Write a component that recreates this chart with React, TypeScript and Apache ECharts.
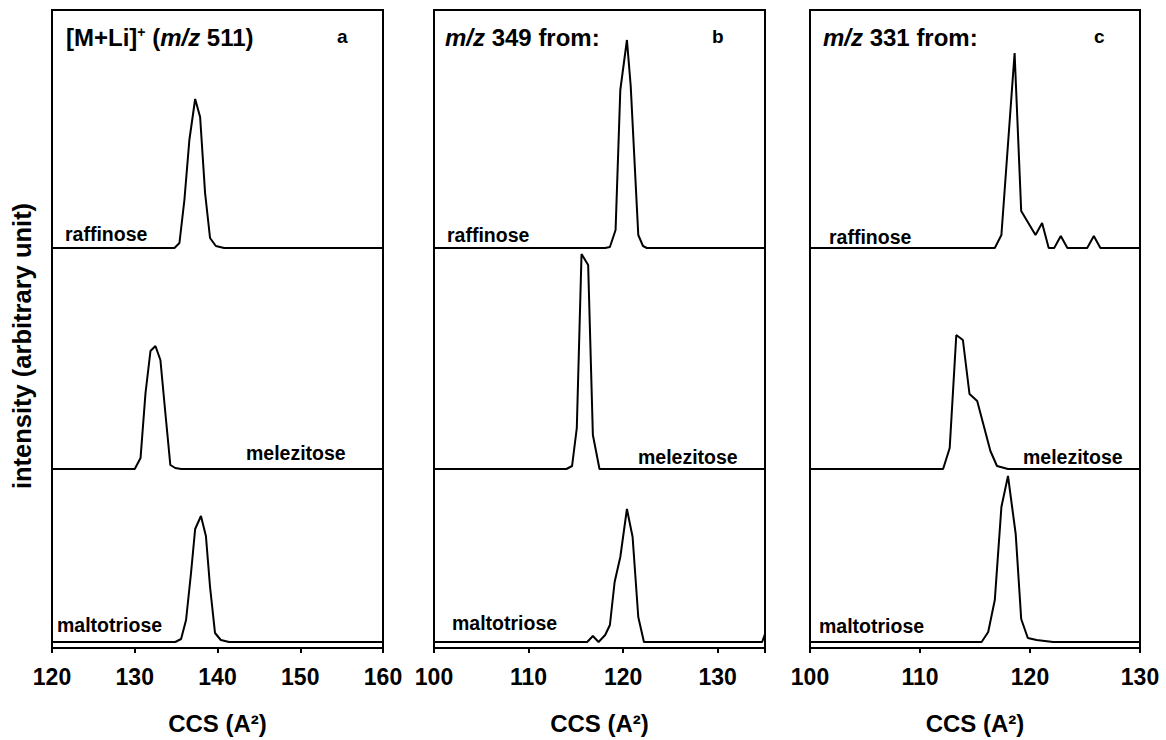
import React, { useEffect, useRef } from "react";
import * as echarts from "echarts";

// Sample names (top to bottom in each panel)
const sampleNames = ["raffinose", "melezitose", "maltotriose"];
// Vertical offsets (arbitrary intensity units) used to stack traces
const stackOffsets = [400, 179, 6];
const yMax = 638;

// Panel a: [M+Li]+ (m/z 511) – CCS vs intensity
const aRaffinose = [[120, 0], [134.8, 0], [135.4, 5], [136.0, 48], [136.6, 108], [137.3, 149], [137.9, 131], [138.5, 55], [139.1, 10], [139.8, 2], [140.8, 0], [160, 0]];
const aMelezitose = [[120, 0], [130.0, 0], [130.7, 11], [131.3, 76], [131.9, 118], [132.5, 123], [133.1, 109], [133.7, 56], [134.3, 4], [134.9, 1], [135.6, 0], [160, 0]];
const aMaltotriose = [[120, 0], [134.9, 0], [135.6, 3], [136.2, 22], [136.8, 69], [137.3, 113], [138.0, 126], [138.6, 106], [139.1, 55], [139.7, 9], [140.4, 2], [141.4, 0], [160, 0]];

// Panel b: m/z 349 fragment
const bRaffinose = [[100, 0], [118.1, 0], [118.6, 1], [119.2, 18], [119.7, 158], [120.4, 208], [120.8, 162], [121.6, 13], [122.1, 2], [122.5, 0], [135, 0]];
const bMelezitose = [[100, 0], [114.0, 0], [114.6, 3], [115.1, 41], [115.6, 215], [116.3, 204], [116.8, 34], [117.5, 0], [135, 0]];
const bMaltotriose = [[100, 0], [116.2, 0], [116.8, 6], [117.4, 0], [118.1, 7], [118.6, 17], [119.1, 60], [119.7, 85], [120.4, 133], [121.0, 105], [121.6, 25], [122.2, 0], [134.7, 0], [135, 8]];

// Panel c: m/z 331 fragment
const cRaffinose = [[100, 0], [116.8, 0], [117.4, 13], [118.6, 195], [119.2, 37], [120.5, 13], [121.1, 25], [121.7, 0], [122.2, 0], [122.8, 12], [123.4, 0], [125.2, 0], [125.8, 12], [126.4, 0], [130, 0]];
const cMelezitose = [[100, 0], [112.1, 0], [112.7, 21], [113.3, 134], [113.9, 129], [114.5, 75], [115.2, 68], [115.8, 43], [116.4, 18], [117.0, 3], [118.0, 0], [130, 0]];
const cMaltotriose = [[100, 0], [115.6, 0], [116.2, 10], [116.8, 42], [117.4, 135], [118.0, 166], [118.7, 108], [119.2, 23], [119.8, 4], [120.6, 2], [122.1, 0], [130, 0]];

const xRanges = [[120, 160], [100, 135], [100, 130]];
const panelLetters = ["a", "b", "c"];

const FONT = '"Liberation Sans", Arial, Helvetica, sans-serif';

export default function App() {
  const ref = useRef<HTMLDivElement>(null);
  useEffect(() => {
    const chart = echarts.init(ref.current!, null, { renderer: "svg" });

    const panels = [
      { left: 52, width: 331, traces: [aRaffinose, aMelezitose, aMaltotriose] },
      { left: 434, width: 331, traces: [bRaffinose, bMelezitose, bMaltotriose] },
      { left: 810, width: 330, traces: [cRaffinose, cMelezitose, cMaltotriose] },
    ];

    const grid = panels.map((p) => ({
      left: p.left,
      width: p.width,
      top: 10,
      height: 638,
      show: true,
      borderColor: "#000",
      borderWidth: 2,
      backgroundColor: "transparent",
    }));

    const xAxis = panels.map((p, i) => ({
      type: "value",
      gridIndex: i,
      min: xRanges[i][0],
      max: xRanges[i][1],
      interval: 10,
      splitLine: { show: false },
      axisLine: { show: true, lineStyle: { color: "#000", width: 2 } },
      axisTick: { show: true, inside: false, length: 5, lineStyle: { color: "#000", width: 2 } },
      axisLabel: {
        show: true,
        margin: 17,
        color: "#000",
        fontFamily: FONT,
        fontWeight: "bold",
        fontSize: 23,
        showMinLabel: true,
        showMaxLabel: true,
        formatter: (v: number) => (v % 10 === 0 ? String(v) : ""),
      },
      name: "CCS (A²)",
      nameLocation: "middle",
      nameGap: 63,
      nameTextStyle: { color: "#000", fontFamily: FONT, fontWeight: "bold", fontSize: 24 },
    }));

    const yAxis = panels.map((p, i) => ({
      type: "value",
      gridIndex: i,
      min: 0,
      max: yMax,
      show: false,
      splitLine: { show: false },
    }));

    const series: any[] = [];
    panels.forEach((p, i) => {
      p.traces.forEach((tr, k) => {
        series.push({
          type: "line",
          name: `${panelLetters[i]}-${sampleNames[k]}`,
          xAxisIndex: i,
          yAxisIndex: i,
          data: tr.map(([x, y]) => [x, y + stackOffsets[k]]),
          showSymbol: false,
          symbol: "none",
          lineStyle: { color: "#000", width: 2 },
          silent: true,
        });
      });
    });

    const labelPos = [
      [[65, 234], [246, 453], [57, 625]],
      [[447, 235], [638, 457], [452, 623]],
      [[829, 237], [1023, 457], [819, 626]],
    ];

    const graphics: any[] = [];
    labelPos.forEach((lp, i) => {
      lp.forEach(([x, y], k) => {
        graphics.push({
          type: "text",
          x,
          y,
          style: {
            text: sampleNames[k],
            fill: "#000",
            font: `bold 19.5px ${FONT}`,
            align: "left",
            verticalAlign: "middle",
          },
        });
      });
    });

    const richBase = {
      b: { fontFamily: FONT, fontWeight: "bold", fontSize: 24, fill: "#000", color: "#000" },
      i: { fontFamily: FONT, fontWeight: "bold", fontStyle: "italic", fontSize: 24, fill: "#000", color: "#000" },
      sup: { fontFamily: FONT, fontWeight: "bold", fontSize: 14, fill: "#000", color: "#000", verticalAlign: "top" },
    };

    const titles = [
      { x: 66, text: "{b|[M+Li]}{sup|+}{b| (}{i|m/z}{b| 511)}" },
      { x: 445, text: "{i|m/z}{b| 349 from:}" },
      { x: 823, text: "{i|m/z}{b| 331 from:}" },
    ];
    titles.forEach((t) => {
      graphics.push({
        type: "text",
        x: t.x,
        y: 37,
        style: {
          text: t.text,
          rich: richBase,
          font: `bold 24px ${FONT}`,
          fill: "#000",
          align: "left",
          verticalAlign: "middle",
        },
      });
    });

    const letterX = [337, 712, 1094];
    letterX.forEach((x, i) => {
      graphics.push({
        type: "text",
        x,
        y: 36,
        style: {
          text: panelLetters[i],
          font: `bold 19px ${FONT}`,
          fill: "#000",
          align: "left",
          verticalAlign: "middle",
        },
      });
    });

    graphics.push({
      type: "text",
      x: 22,
      y: 346,
      rotation: Math.PI / 2,
      style: {
        text: "intensity (arbitrary unit)",
        font: `bold 25.5px ${FONT}`,
        fill: "#000",
        align: "center",
        verticalAlign: "middle",
      },
    });

    chart.setOption({
      animation: false,
      backgroundColor: "#fff",
      grid,
      xAxis,
      yAxis,
      series,
      graphic: { elements: graphics },
    });

    return () => chart.dispose();
  }, []);

  return (
    <div
      ref={ref}
      style={{ position: "absolute", left: 0, top: 0, width: 1166, height: 740 }}
    />
  );
}
